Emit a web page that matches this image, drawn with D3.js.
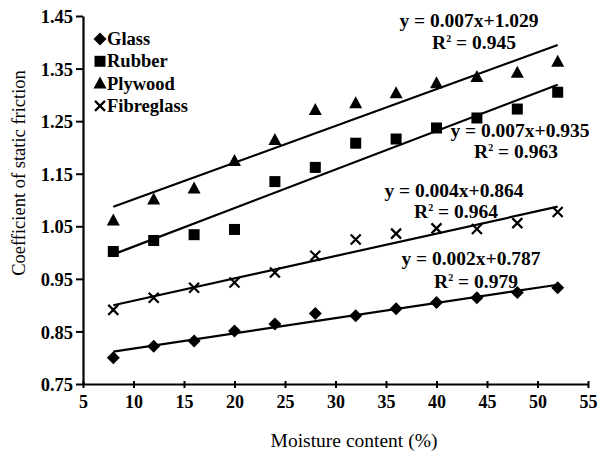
<!DOCTYPE html>
<html>
<head>
<meta charset="utf-8">
<script src="https://cdn.jsdelivr.net/npm/d3@7/dist/d3.min.js"></script>
<style>
  body { margin: 0; background: #fff; }
  text { font-family: "Liberation Serif", "Times New Roman", serif; font-weight: bold; fill: #000; }
</style>
</head>
<body>
<div id="chart"></div>
<script>
const width = 600;
const height = 456;

// moisture content (%)
const moisture = [8, 12, 16, 20, 24, 28, 32, 36, 40, 44, 48, 52];

const glass = [0.80, 0.822, 0.832, 0.851, 0.864, 0.884, 0.880, 0.893, 0.905, 0.914, 0.924, 0.933];
const rubber = [1.002, 1.023, 1.034, 1.044, 1.135, 1.162, 1.208, 1.216, 1.237, 1.256, 1.273, 1.305];
const plywood = [1.061, 1.101, 1.122, 1.174, 1.214, 1.271, 1.284, 1.303, 1.322, 1.334, 1.342, 1.363];
const fibreglass = [0.891, 0.914, 0.933, 0.943, 0.962, 0.994, 1.025, 1.036, 1.046, 1.045, 1.056, 1.077];

const seriesNames = ["Glass", "Rubber", "Plywood", "Fibreglass"];
const equations = ["y = 0.002x+0.787", "y = 0.007x+0.935", "y = 0.007x+1.029", "y = 0.004x+0.864"];
const rSquared = ["0.979", "0.963", "0.945", "0.964"];

const xTicks = [5, 10, 15, 20, 25, 30, 35, 40, 45, 50, 55];
const yTicks = [0.75, 0.85, 0.95, 1.05, 1.15, 1.25, 1.35, 1.45];

const seriesValues = [glass, rubber, plywood, fibreglass];

const svg = d3.select("#chart")
  .append("svg")
  .attr("width", width)
  .attr("height", height);

const x = d3.scaleLinear().domain([5, 55]).range([83, 588]);
const y = d3.scaleLinear().domain([0.75, 1.45]).range([384, 16]);

// axes
const xAxis = svg.append("g")
  .attr("transform", `translate(0,${y(0.75)})`)
  .call(d3.axisBottom(x).tickValues(xTicks).tickSize(4).tickSizeOuter(0).tickFormat(d3.format("d")));
xAxis.select(".domain").attr("stroke-width", 2.2);
xAxis.selectAll(".tick line").attr("stroke-width", 2).attr("y1", -3);
xAxis.selectAll(".tick text").attr("y", 11).attr("dy", "0.71em").style("font-size", "18px");

const yAxis = svg.append("g")
  .attr("transform", `translate(${x(5)},0)`)
  .call(d3.axisLeft(y).tickValues(yTicks).tickSize(7).tickSizeOuter(0).tickFormat(d3.format(".2f")));
yAxis.select(".domain").attr("stroke-width", 2.2);
yAxis.selectAll(".tick line").attr("stroke-width", 2);
yAxis.selectAll(".tick text").attr("x", -10).attr("dy", "0.36em").style("font-size", "18.5px");

// trend lines (least squares on the data)
function fit(xs, ys) {
  const mx = d3.mean(xs), my = d3.mean(ys);
  let num = 0, den = 0;
  xs.forEach((v, i) => { num += (v - mx) * (ys[i] - my); den += (v - mx) * (v - mx); });
  const b = num / den;
  return { b, a: my - b * mx };
}

const xMin = d3.min(moisture), xMax = d3.max(moisture);
seriesValues.forEach(vals => {
  const f = fit(moisture, vals);
  svg.append("line")
    .attr("x1", x(xMin)).attr("y1", y(f.a + f.b * xMin))
    .attr("x2", x(xMax)).attr("y2", y(f.a + f.b * xMax))
    .attr("stroke", "#000")
    .attr("stroke-width", 2.2);
});

// markers
function drawMarker(g, type, cx, cy) {
  if (type === 0) {
    g.append("path").attr("d", `M${cx},${cy - 6.5}L${cx + 6.5},${cy}L${cx},${cy + 6.5}L${cx - 6.5},${cy}Z`).attr("fill", "#000");
  } else if (type === 1) {
    g.append("rect").attr("x", cx - 5.5).attr("y", cy - 5.5).attr("width", 11).attr("height", 11).attr("fill", "#000");
  } else if (type === 2) {
    g.append("path").attr("d", `M${cx},${cy - 7}L${cx + 6.5},${cy + 5}L${cx - 6.5},${cy + 5}Z`).attr("fill", "#000");
  } else {
    g.append("path").attr("d", `M${cx - 5},${cy - 5}L${cx + 5},${cy + 5}M${cx + 5},${cy - 5}L${cx - 5},${cy + 5}`)
      .attr("stroke", "#000").attr("stroke-width", 2.2).attr("fill", "none");
  }
}

const marks = svg.append("g");
seriesValues.forEach((vals, s) => {
  vals.forEach((v, i) => drawMarker(marks, s, x(moisture[i]), y(v)));
});

// legend
const legend = svg.append("g");
seriesNames.forEach((name, i) => {
  const ly = 39 + i * 22.3;
  drawMarker(legend, i, 100, ly);
  legend.append("text")
    .attr("x", 107).attr("y", ly + 6)
    .style("font-size", "18.5px")
    .text(name);
});

// equation labels: [eq center x, eq baseline, R2 center x, R2 baseline]
const labelPos = [
  [471, 265, 476, 288],
  [520, 137, 516, 158],
  [469, 27, 474, 49],
  [454, 197, 456, 218]
];
labelPos.forEach((p, i) => {
  svg.append("text")
    .attr("x", p[0]).attr("y", p[1])
    .attr("text-anchor", "middle")
    .style("font-size", "19.5px")
    .text(equations[i]);
  const r = svg.append("text")
    .attr("x", p[2]).attr("y", p[3])
    .attr("text-anchor", "middle")
    .style("font-size", "19.5px");
  r.append("tspan").text("R");
  r.append("tspan").attr("dy", -7).style("font-size", "10px").text("2");
  r.append("tspan").attr("dy", 7).text(" = " + rSquared[i]);
});

// axis titles
svg.append("text")
  .attr("x", 354).attr("y", 447)
  .attr("text-anchor", "middle")
  .style("font-size", "19.5px")
  .style("font-weight", "normal")
  .text("Moisture content (%)");

svg.append("text")
  .attr("transform", "translate(25,173) rotate(-90)")
  .attr("text-anchor", "middle")
  .style("font-size", "18.5px")
  .style("font-weight", "normal")
  .text("Coefficient of static friction");
</script>
</body>
</html>
